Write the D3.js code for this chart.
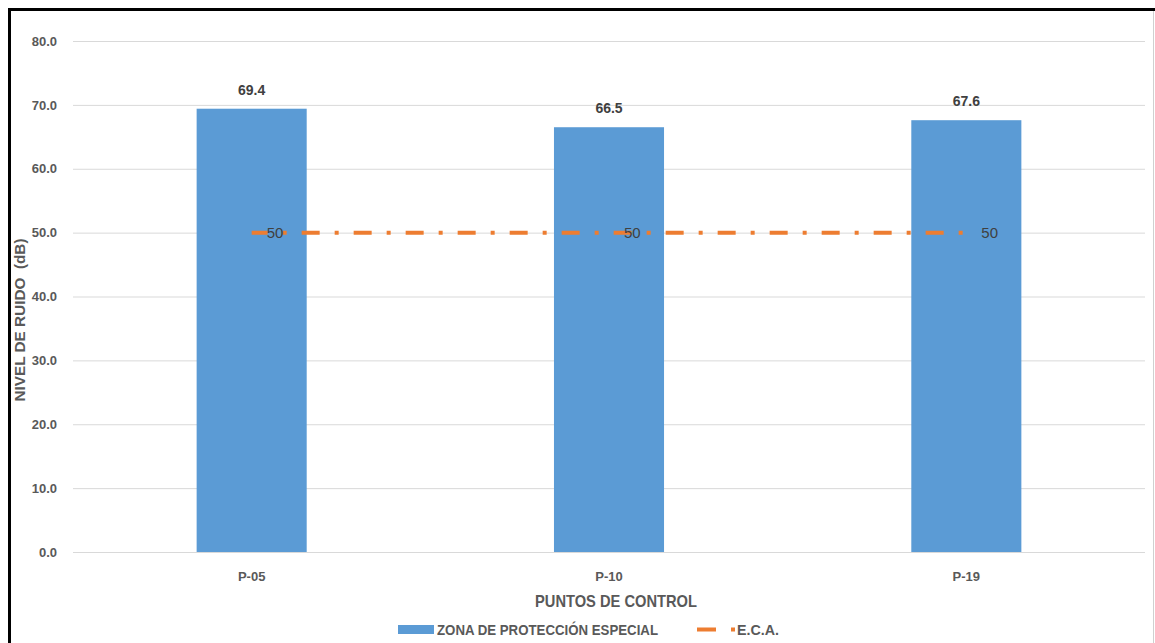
<!DOCTYPE html>
<html>
<head>
<meta charset="utf-8">
<script src="https://cdn.jsdelivr.net/npm/d3@7"></script>
<style>
  html, body { margin: 0; padding: 0; background: #fff; }
  svg { display: block; }
  text { font-family: "Liberation Sans", Arial, sans-serif; }
</style>
</head>
<body>
<svg id="chart" width="1155" height="643"></svg>
<script>
// Noise level per control point
const categories = ["P-05", "P-10", "P-19"];
const noiseValues = [69.4, 66.5, 67.6];
const ecaValues = [50, 50, 50];
const yTicks = [0, 10, 20, 30, 40, 50, 60, 70, 80];
const seriesNames = ["ZONA DE PROTECCIÓN ESPECIAL", "E.C.A."];

const svg = d3.select("#chart");
const W = 1155, H = 643;
const plot = { left: 73, right: 1145, top: 41, bottom: 552 };

svg.append("rect").attr("width", W).attr("height", H).attr("fill", "#fff");

// frame
svg.append("path").attr("d", `M9.5,${H} V9.5 H1156`).attr("fill", "none")
  .attr("stroke", "#000").attr("stroke-width", 3);
svg.append("line").attr("x1", 1153.5).attr("x2", 1153.5).attr("y1", 11).attr("y2", H)
  .attr("stroke", "#d0d0d0").attr("stroke-width", 1);

const x = d3.scaleBand().domain(categories).range([plot.left, plot.right])
  .paddingInner(0.692).paddingOuter(0.346);
const y = d3.scaleLinear().domain([0, 80]).range([plot.bottom, plot.top]);

// gridlines
const yAxis = d3.axisLeft(y).tickValues(yTicks).tickFormat(d3.format(".1f"))
  .tickSize(-(plot.right - plot.left)).tickPadding(16);
const gy = svg.append("g").attr("transform", `translate(${plot.left},0)`).call(yAxis);
gy.select(".domain").remove();
gy.selectAll(".tick line").attr("stroke", "#d9d9d9").attr("stroke-width", 1);
gy.selectAll(".tick text").attr("fill", "#595959").attr("font-size", 13)
  .attr("font-weight", "bold");

// bars
svg.append("g").selectAll("rect").data(categories).join("rect")
  .attr("x", d => x(d))
  .attr("y", (d, i) => y(noiseValues[i]))
  .attr("width", x.bandwidth())
  .attr("height", (d, i) => y(0) - y(noiseValues[i]))
  .attr("fill", "#5b9bd5");

// bar value labels
svg.append("g").selectAll("text").data(categories).join("text")
  .attr("x", d => x(d) + x.bandwidth() / 2)
  .attr("y", (d, i) => y(noiseValues[i]) - 14)
  .attr("text-anchor", "middle")
  .attr("font-size", 14).attr("font-weight", "bold").attr("fill", "#404040")
  .text((d, i) => noiseValues[i].toFixed(1));

// x axis labels
const xAxis = d3.axisBottom(x).tickSize(0).tickPadding(20);
const gx = svg.append("g").attr("transform", `translate(0,${plot.bottom})`).call(xAxis);
gx.select(".domain").remove();
gx.selectAll(".tick text").attr("fill", "#595959").attr("font-size", 13)
  .attr("font-weight", "bold");

// E.C.A. reference line (dash-dot)
const line = d3.line()
  .x((d, i) => x(categories[i]) + x.bandwidth() / 2)
  .y(d => y(d));
svg.append("path").datum(ecaValues)
  .attr("d", line)
  .attr("fill", "none")
  .attr("stroke", "#ed7d31")
  .attr("stroke-width", 4)
  .attr("stroke-dasharray", "18 15 4 15")
  .attr("stroke-dashoffset", 2);

svg.append("g").selectAll("text").data(ecaValues).join("text")
  .attr("x", (d, i) => x(categories[i]) + x.bandwidth() / 2 + 15)
  .attr("y", d => y(d) + 5)
  .attr("font-size", 15).attr("fill", "#404040")
  .text(d => d);

// axis titles
svg.append("text")
  .attr("transform", `translate(25,320) rotate(-90)`)
  .attr("text-anchor", "middle")
  .attr("font-size", 15).attr("font-weight", "bold").attr("fill", "#595959")
  .attr("textLength", 163).attr("lengthAdjust", "spacingAndGlyphs")
  .attr("xml:space", "preserve")
  .text("NIVEL DE RUIDO  (dB)");

svg.append("text")
  .attr("x", 616).attr("y", 607)
  .attr("text-anchor", "middle")
  .attr("font-size", 17).attr("font-weight", "bold").attr("fill", "#595959")
  .attr("textLength", 162).attr("lengthAdjust", "spacingAndGlyphs")
  .text("PUNTOS DE CONTROL");

// legend
const lg = svg.append("g");
lg.append("rect").attr("x", 398).attr("y", 625).attr("width", 36).attr("height", 9)
  .attr("fill", "#5b9bd5");
lg.append("text").attr("x", 437).attr("y", 635)
  .attr("font-size", 14).attr("font-weight", "bold").attr("fill", "#595959")
  .attr("textLength", 221).attr("lengthAdjust", "spacingAndGlyphs")
  .text(seriesNames[0]);
lg.append("line").attr("x1", 697).attr("x2", 735).attr("y1", 629.5).attr("y2", 629.5)
  .attr("stroke", "#ed7d31").attr("stroke-width", 4)
  .attr("stroke-dasharray", "19 15 4 20");
lg.append("text").attr("x", 737).attr("y", 635)
  .attr("font-size", 14).attr("font-weight", "bold").attr("fill", "#595959")
  .attr("textLength", 42).attr("lengthAdjust", "spacingAndGlyphs")
  .text(seriesNames[1]);
</script>
</body>
</html>
